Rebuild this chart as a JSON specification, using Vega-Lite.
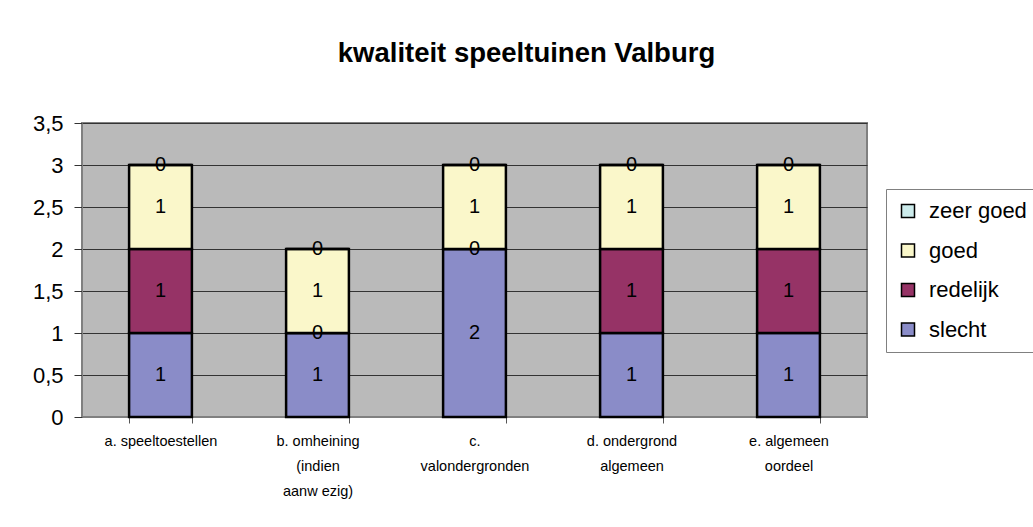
{
  "$schema": "https://vega.github.io/schema/vega-lite/v6.json",
  "autosize": {"type": "none"},
  "padding": {"left": 82, "top": 123, "right": 166, "bottom": 110},
  "width": 785,
  "height": 294,
  "background": "white",
  "title": {
    "text": "kwaliteit speeltuinen Valburg",
    "font": "Liberation Sans",
    "fontSize": 27.5,
    "fontWeight": "bold",
    "color": "black",
    "anchor": "middle",
    "frame": "group",
    "dx": 52,
    "offset": 45
  },
  "data": {
    "values": [
      {"onderdeel": "a. speeltoestellen", "oordeel": "slecht", "aantal": 1},
      {"onderdeel": "a. speeltoestellen", "oordeel": "redelijk", "aantal": 1},
      {"onderdeel": "a. speeltoestellen", "oordeel": "goed", "aantal": 1},
      {"onderdeel": "a. speeltoestellen", "oordeel": "zeer goed", "aantal": 0},
      {"onderdeel": "b. omheining|(indien|aanw ezig)", "oordeel": "slecht", "aantal": 1},
      {"onderdeel": "b. omheining|(indien|aanw ezig)", "oordeel": "redelijk", "aantal": 0},
      {"onderdeel": "b. omheining|(indien|aanw ezig)", "oordeel": "goed", "aantal": 1},
      {"onderdeel": "b. omheining|(indien|aanw ezig)", "oordeel": "zeer goed", "aantal": 0},
      {"onderdeel": "c.|valondergronden", "oordeel": "slecht", "aantal": 2},
      {"onderdeel": "c.|valondergronden", "oordeel": "redelijk", "aantal": 0},
      {"onderdeel": "c.|valondergronden", "oordeel": "goed", "aantal": 1},
      {"onderdeel": "c.|valondergronden", "oordeel": "zeer goed", "aantal": 0},
      {"onderdeel": "d. ondergrond|algemeen", "oordeel": "slecht", "aantal": 1},
      {"onderdeel": "d. ondergrond|algemeen", "oordeel": "redelijk", "aantal": 1},
      {"onderdeel": "d. ondergrond|algemeen", "oordeel": "goed", "aantal": 1},
      {"onderdeel": "d. ondergrond|algemeen", "oordeel": "zeer goed", "aantal": 0},
      {"onderdeel": "e. algemeen|oordeel", "oordeel": "slecht", "aantal": 1},
      {"onderdeel": "e. algemeen|oordeel", "oordeel": "redelijk", "aantal": 1},
      {"onderdeel": "e. algemeen|oordeel", "oordeel": "goed", "aantal": 1},
      {"onderdeel": "e. algemeen|oordeel", "oordeel": "zeer goed", "aantal": 0}
    ]
  },
  "transform": [
    {"calculate": "indexof(['slecht','redelijk','goed','zeer goed'], datum.oordeel)", "as": "volgorde"},
    {"stack": "aantal", "groupby": ["onderdeel"], "sort": [{"field": "volgorde", "order": "ascending"}], "as": ["y0", "y1"]},
    {"calculate": "(datum.y0 + datum.y1) / 2", "as": "ymid"}
  ],
  "encoding": {
    "x": {
      "field": "onderdeel",
      "type": "nominal",
      "sort": null,
      "title": null,
      "scale": {"paddingInner": 0.6, "paddingOuter": 0.3},
      "axis": {
        "labelAngle": 0,
        "labelExpr": "split(datum.label, '|')",
        "labelFont": "Liberation Sans",
        "labelFontSize": 14.5,
        "labelColor": "black",
        "labelLineHeight": 25,
        "labelBaseline": "top",
        "labelPadding": 11,
        "labelLimit": 200,
        "tickBand": "extent",
        "tickSize": 6,
        "tickColor": "#555555",
        "domainColor": "#808080",
        "domainWidth": 1,
        "grid": false
      }
    }
  },
  "layer": [
    {
      "mark": {"type": "bar", "stroke": "black", "strokeWidth": 2.5},
      "encoding": {
        "y": {
          "field": "y0",
          "type": "quantitative",
          "scale": {"domain": [0, 3.5]},
          "title": null,
          "axis": {
            "values": [0, 0.5, 1, 1.5, 2, 2.5, 3, 3.5],
            "format": ".2~f",
            "labelFont": "Liberation Sans",
            "labelFontSize": 22,
            "labelColor": "black",
            "labelPadding": 11,
            "tickSize": 8,
            "tickColor": "#333333",
            "domainColor": "#808080",
            "grid": true,
            "gridColor": "#333333",
            "gridWidth": 1
          }
        },
        "y2": {"field": "y1"},
        "color": {
          "field": "oordeel",
          "type": "nominal",
          "scale": {
            "domain": ["zeer goed", "goed", "redelijk", "slecht"],
            "range": ["#CCEBEB", "#FAF7CA", "#963366", "#8A8CC8"]
          },
          "legend": {
            "title": null,
            "orient": "none",
            "legendX": 804,
            "legendY": 66,
            "symbolType": "square",
            "symbolSize": 169,
            "symbolStrokeColor": "black",
            "symbolStrokeWidth": 1.5,
            "symbolOpacity": 1,
            "labelFont": "Liberation Sans",
            "labelFontSize": 22,
            "labelColor": "black",
            "labelOffset": 10,
            "labelLimit": 300,
            "rowPadding": 17.5,
            "padding": 11,
            "strokeColor": "#808080",
            "fillColor": "white"
          }
        }
      }
    },
    {
      "mark": {"type": "text", "font": "Liberation Sans", "fontSize": 20, "color": "black", "baseline": "middle", "align": "center"},
      "encoding": {
        "y": {"field": "ymid", "type": "quantitative"},
        "text": {"field": "aantal", "type": "quantitative"}
      }
    }
  ],
  "config": {
    "locale": {"number": {"decimal": ",", "thousands": ".", "grouping": [3], "currency": ["€", ""]}},
    "view": {"fill": "#BABABA", "stroke": "#808080", "strokeWidth": 2}
  }
}
